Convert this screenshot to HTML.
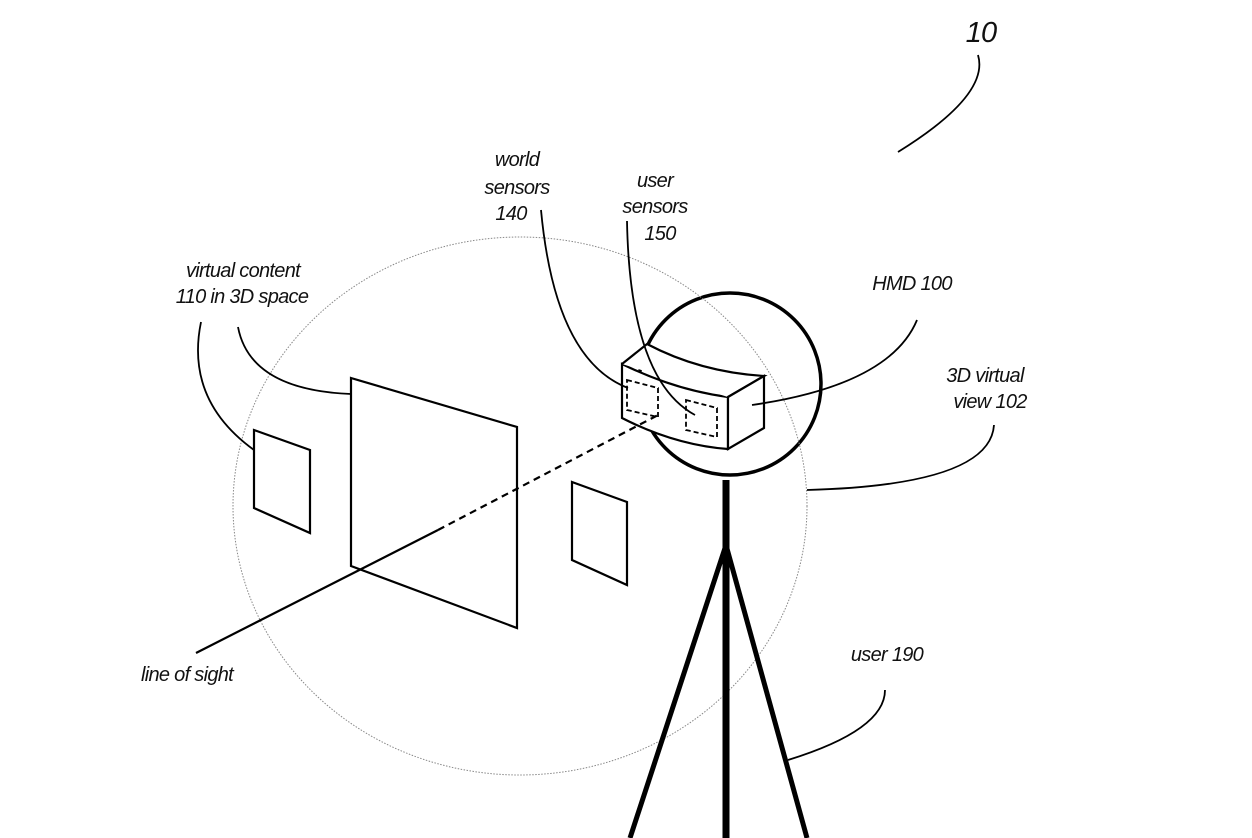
<!DOCTYPE html>
<html><head><style>
html,body{margin:0;padding:0;background:#fff;}
svg{display:block;}
text{font-family:"Liberation Sans Narrow","Liberation Sans",sans-serif;font-style:italic;font-size:20px;fill:#111;letter-spacing:-0.7px;}
</style></head><body>
<svg width="1252" height="838" viewBox="0 0 1252 838" xmlns="http://www.w3.org/2000/svg">
<g fill="none" stroke="#000" stroke-width="2.2" stroke-linejoin="miter">
<!-- head -->
<circle cx="730" cy="384" r="91" stroke-width="3.5"/>
<!-- HMD -->
<path d="M622,364 Q675,390 728,397 L728,449 Q675,445 622,418 Z" fill="#fff"/>
<path d="M622,364 L647,344 Q700,372 764,376 L728,397" fill="#fff"/>
<path d="M728,397 L764,376 L764,428 L728,449 Z" fill="#fff"/>
<polygon points="627,380 658,388 658,417 627,410" stroke-dasharray="5 3" stroke-width="1.8"/>
<polygon points="686,400 717,408 717,437 686,430" stroke-dasharray="5 3" stroke-width="1.8"/>
</g>
<!-- big dotted view circle -->
<ellipse cx="520" cy="506" rx="287" ry="269" fill="none" stroke="#888" stroke-width="1" stroke-dasharray="1.5 1.5"/>
<g fill="none" stroke="#000" stroke-width="2.2" stroke-linejoin="miter">
<!-- panels -->
<polygon points="351,378 517,427 517,628 351,566"/>
<polygon points="254,430 310,450 310,533 254,508"/>
<polygon points="572,482 627,502 627,585 572,560"/>
<!-- line of sight -->
<line x1="196" y1="653" x2="438" y2="530"/>
<line x1="438" y1="530" x2="660" y2="414" stroke-dasharray="7 5"/>
<!-- body -->
<line x1="726" y1="480" x2="726" y2="838" stroke-width="7"/>
<line x1="726" y1="545" x2="630" y2="838" stroke-width="5"/>
<line x1="726" y1="545" x2="807" y2="838" stroke-width="5"/>
<!-- leaders -->
<path d="M201,322 Q185,400 254,450" stroke-width="1.8"/>
<path d="M238,327 Q250,390 351,394" stroke-width="1.8"/>
<path d="M541,210 Q555,360 628,388" stroke-width="1.8"/>
<path d="M627,221 Q630,380 695,415" stroke-width="1.8"/>
<path d="M917,320 Q890,385 752,405" stroke-width="1.8"/>
<path d="M994,425 Q990,485 807,490" stroke-width="1.8"/>
<path d="M885,690 Q885,730 788,760" stroke-width="1.8"/>
<path d="M978,55 Q990,95 898,152" stroke-width="1.8"/>
</g>
<text x="981" y="42" text-anchor="middle" style="font-size:29px">10</text>
<text x="517" y="166" text-anchor="middle">world</text>
<text x="517" y="194" text-anchor="middle">sensors</text>
<text x="511" y="220" text-anchor="middle">140</text>
<text x="655" y="187" text-anchor="middle">user</text>
<text x="655" y="213" text-anchor="middle">sensors</text>
<text x="660" y="240" text-anchor="middle">150</text>
<text x="243" y="277" text-anchor="middle">virtual content</text>
<text x="242" y="303" text-anchor="middle">110 in 3D space</text>
<text x="912" y="290" text-anchor="middle">HMD 100</text>
<text x="985" y="382" text-anchor="middle">3D virtual</text>
<text x="990" y="408" text-anchor="middle">view 102</text>
<text x="187" y="681" text-anchor="middle">line of sight</text>
<text x="887" y="661" text-anchor="middle">user 190</text>
</svg>
</body></html>
